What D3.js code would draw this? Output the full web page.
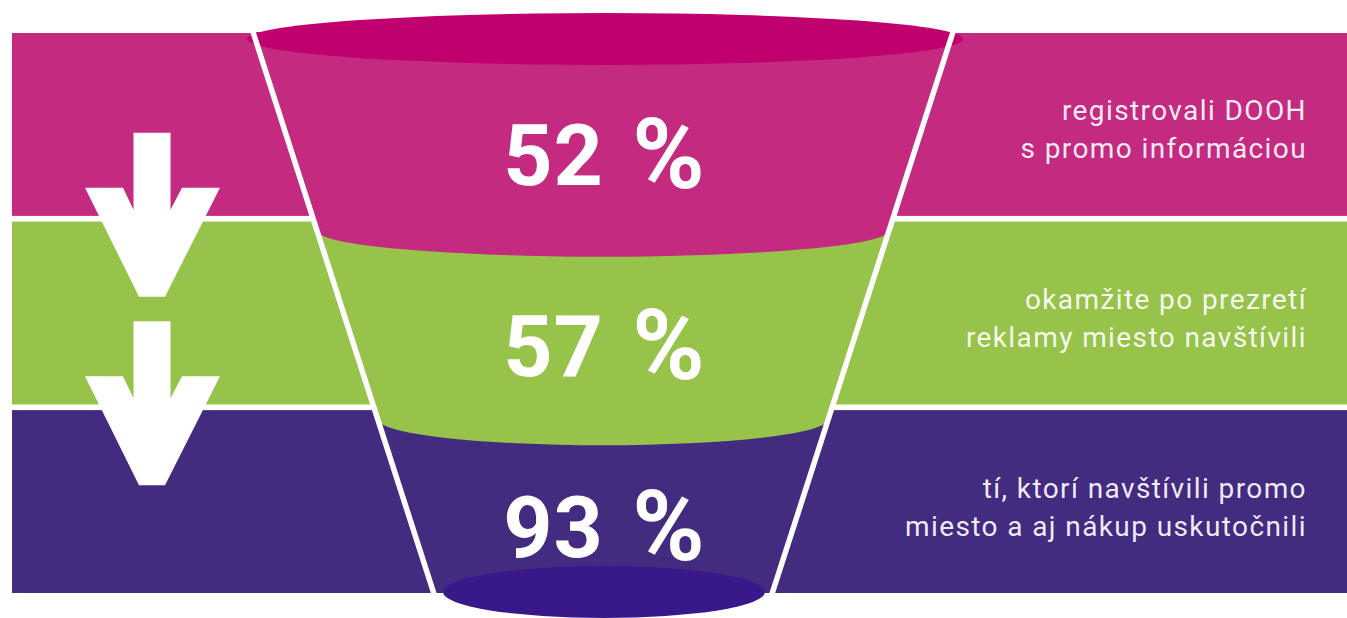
<!DOCTYPE html>
<html>
<head>
<meta charset="utf-8">
<script src="https://cdn.jsdelivr.net/npm/d3@7"></script>
<style>
  html, body { margin: 0; padding: 0; background: #fff; overflow: hidden; }
  svg { display: block; }
</style>
</head>
<body>
<script>
// chart data
var values = [52, 57, 93];
var stageLines = [
    ["registrovali DOOH", "s promo informáciou"],
    ["okamžite po prezretí", "reklamy miesto navštívili"],
    ["tí, ktorí navštívili promo", "miesto a aj nákup uskutočnili"]
];
var stages = d3.range(values.length);

var width = 1347, height = 618;

// colours
var bandColor = d3.scaleOrdinal().domain(stages).range(["#c42b80", "#97c34b", "#432b80"]);
var capTop = "#c1006f",
    capBottom = "#39198a";

var svg = d3.select("body").append("svg")
    .attr("width", width)
    .attr("height", height);

// vertical bands, one per stage
var y = d3.scaleBand()
    .domain(stages)
    .range([33, 593])
    .paddingInner(0.03);

svg.selectAll(".band")
    .data(stages)
    .enter()
    .append("rect")
    .attr("class", "band")
    .attr("x", 12)
    .attr("y", function(d){ return y(d); })
    .attr("width", width - 12)
    .attr("height", y.bandwidth())
    .attr("fill", function(d){ return bandColor(d); });

//==========================================
// FUNNEL
//==========================================
var cx = 603,
    wallTop = 32, wallBottom = 597,
    halfTop = 350, halfBottom = 168,
    ry = 26;

// half width of the funnel at a given y
var halfW = d3.scaleLinear()
    .domain([wallTop, wallBottom])
    .range([halfTop, halfBottom]);

// ellipse levels: top rim, the two stage joins, bottom rim
var gap = y.step() - y.bandwidth();
var levels = [y(0) + 5];
stages.slice(1).forEach(function(d){
    levels.push(y(d) - gap / 2 + 12);
});
levels.push(y(stages[stages.length - 1]) + y.bandwidth() - 1);

var defs = svg.append("defs");
var lastLevel = levels[levels.length - 1];
defs.append("clipPath")
    .attr("id", "funnelClip")
    .append("path")
    .attr("d", "M" + (cx - halfW(wallTop)) + "," + wallTop +
        "L" + (cx + halfW(wallTop)) + "," + wallTop +
        "L" + (cx + halfW(lastLevel)) + "," + lastLevel +
        "L" + (cx - halfW(lastLevel)) + "," + lastLevel + "Z");

var funnel = svg.append("g").attr("clip-path", "url(#funnelClip)");

// each stage fills from the top down to the front arc of its lower level,
// drawn bottom-up so the upper stage covers the lower one
function segmentPath(levelY, last){
    var w = halfW(levelY);
    if (last) {
        return "M" + (cx - 400) + ",0H" + (cx + 400) + "V" + (levelY + 10) + "H" + (cx - 400) + "Z";
    }
    return "M" + (cx - 400) + ",0H" + (cx + 400) + "V" + levelY +
        "H" + (cx + w) +
        "A" + w + "," + ry + " 0 0 1 " + (cx - w) + "," + levelY +
        "H" + (cx - 400) + "Z";
}

funnel.selectAll(".segment")
    .data(stages.slice().reverse())
    .enter()
    .append("path")
    .attr("class", "segment")
    .attr("d", function(d){ return segmentPath(levels[d + 1], d === stages.length - 1); })
    .attr("fill", function(d){ return bandColor(d); });

// top and bottom rims
svg.append("ellipse")
    .attr("cx", cx + 2)
    .attr("cy", levels[0] + 1)
    .attr("rx", 358)
    .attr("ry", ry)
    .attr("fill", capTop);

svg.append("ellipse")
    .attr("cx", cx + 1)
    .attr("cy", lastLevel)
    .attr("rx", 161)
    .attr("ry", ry)
    .attr("fill", capBottom);

// white walls
[-1, 1].forEach(function(s){
    svg.append("line")
        .attr("x1", cx + s * halfW(wallTop))
        .attr("y1", wallTop)
        .attr("x2", cx + s * halfW(wallBottom))
        .attr("y2", wallBottom)
        .attr("stroke", "#fff")
        .attr("stroke-width", 5.5);
});

//==========================================
// PERCENT LABELS
//==========================================
var pct = svg.selectAll(".pct")
    .data(stages)
    .enter()
    .append("text")
    .attr("class", "pct")
    .attr("x", cx + 1)
    .attr("y", function(d){ return (levels[d] + levels[d + 1]) / 2 + 20 + 31; })
    .attr("text-anchor", "middle")
    .style("font-family", "Roboto, 'DejaVu Sans Condensed', sans-serif")
    .style("font-weight", 700)
    .style("font-size", "86px")
    .style("word-spacing", "6px")
    .attr("fill", "#fff");

pct.append("tspan")
    .style("letter-spacing", "1px")
    .text(function(d){ return values[d] + " "; });
pct.append("tspan")
    .style("font-size", "98px")
    .attr("dy", 3)
    .text("%");

//==========================================
// STAGE DESCRIPTIONS
//==========================================
var desc = svg.selectAll(".desc")
    .data(stages)
    .enter()
    .append("text")
    .attr("class", "desc")
    .attr("text-anchor", "end")
    .style("font-family", "Roboto, 'DejaVu Sans', sans-serif")
    .style("font-size", "28px")
    .style("letter-spacing", "1.4px")
    .attr("fill", "#fff")
    .attr("fill-opacity", 0.92);

desc.selectAll("tspan")
    .data(function(d){
        var mid = y(d) + y.bandwidth() / 2;
        return stageLines[d].map(function(t, i){ return { text: t, y: mid - 4 + i * 38 }; });
    })
    .enter()
    .append("tspan")
    .attr("x", 1307)
    .attr("y", function(d){ return d.y; })
    .text(function(d){ return d.text; });

//==========================================
// DOWN ARROWS between stages
//==========================================
var arrowX = 152;
function arrowPath(top){
    var pts = [
        [-18.5, -55], [18.5, -55], [18.5, 22], [30, 0], [68, 0], [13, 109],
        [-13, 109], [-67, 0], [-29, 0], [-18.5, 22]
    ];
    return "M" + pts.map(function(p){ return [arrowX + p[0], top + p[1]].join(","); }).join("L") + "Z";
}

svg.selectAll(".arrow")
    .data(stages.slice(1))
    .enter()
    .append("path")
    .attr("class", "arrow")
    .attr("d", function(d){ return arrowPath(y(d) - gap / 2 - 31); })
    .attr("fill", "#fff");
</script>
</body>
</html>
